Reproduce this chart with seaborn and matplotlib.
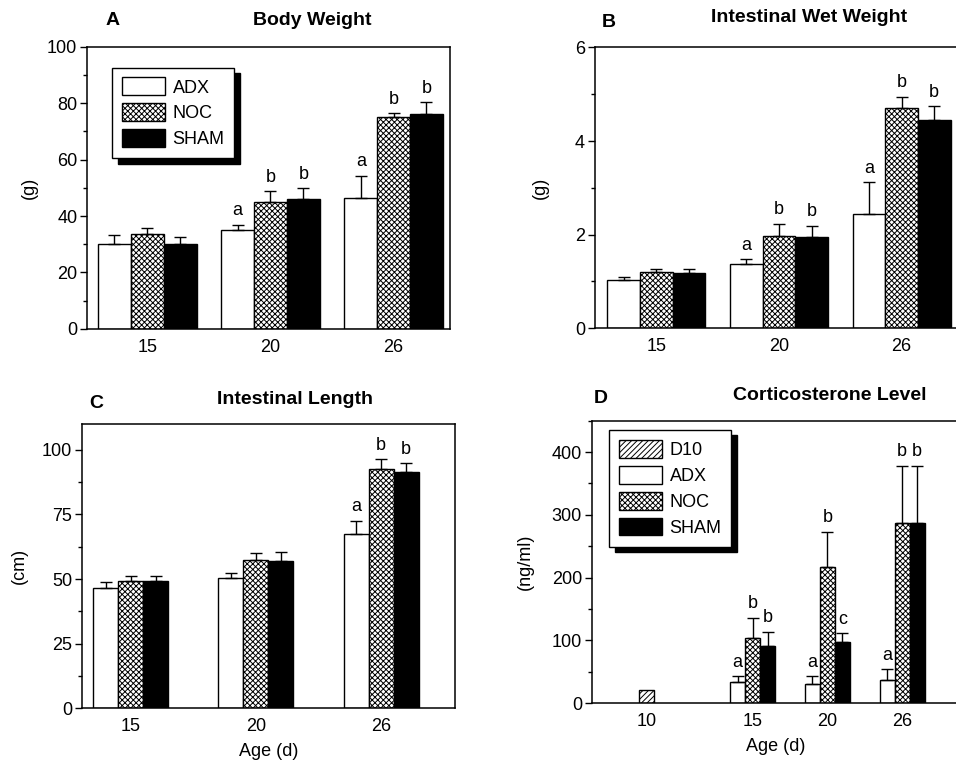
import matplotlib.pyplot as plt
import pandas as pd
import seaborn as sns
from matplotlib.patches import Patch
from matplotlib.ticker import AutoMinorLocator, MultipleLocator

# Data (mean and SEM)
ages = ['15', '20', '26']
groups = ['ADX', 'NOC', 'SHAM']

bw_adx = [30.2, 35.0, 46.5]
bw_noc = [33.6, 45.0, 75.1]
bw_sham = [30.2, 46.1, 76.2]
bw_adx_sem = [3.1, 2.0, 7.7]
bw_noc_sem = [2.0, 3.8, 1.3]
bw_sham_sem = [2.2, 3.7, 4.1]

iw_adx = [1.02, 1.38, 2.44]
iw_noc = [1.21, 1.96, 4.70]
iw_sham = [1.17, 1.95, 4.44]
iw_adx_sem = [0.08, 0.09, 0.68]
iw_noc_sem = [0.06, 0.27, 0.25]
iw_sham_sem = [0.09, 0.24, 0.30]

il_adx = [46.6, 50.5, 67.3]
il_noc = [49.4, 57.2, 92.7]
il_sham = [49.4, 56.9, 91.6]
il_adx_sem = [2.3, 1.9, 5.3]
il_noc_sem = [1.8, 3.0, 3.7]
il_sham_sem = [1.7, 3.7, 3.3]

cort_d10 = [21.2]
cort_adx = [34.0, 30.2, 37.1]
cort_noc = [103.4, 216.4, 286.5]
cort_sham = [90.2, 97.1, 286.5]
cort_adx_sem = [9.0, 12.2, 17.0]
cort_noc_sem = [32.9, 56.8, 91.7]
cort_sham_sem = [23.8, 13.9, 91.7]

letters_ab = {'ADX': ['', 'a', 'a'], 'NOC': ['', 'b', 'b'], 'SHAM': ['', 'b', 'b']}
letters_c = {'ADX': ['', '', 'a'], 'NOC': ['', '', 'b'], 'SHAM': ['', '', 'b']}
letters_d = {'ADX': ['a', 'a', 'a'], 'NOC': ['b', 'b', 'b'], 'SHAM': ['b', 'c', 'b']}

sns.set_style('ticks')
plt.rcParams['font.family'] = ['Liberation Sans', 'DejaVu Sans']
plt.rcParams['hatch.linewidth'] = 0.7
for key in ['text.color', 'axes.labelcolor', 'xtick.color', 'ytick.color',
            'axes.edgecolor']:
    plt.rcParams[key] = 'black'

palette = {'ADX': 'white', 'NOC': 'white', 'SHAM': 'black', 'D10': 'white'}
hatches = {'ADX': '', 'NOC': 'xxxxxx', 'SHAM': '', 'D10': '//////'}


def long_df(x, means, sems):
    rows = []
    for g, m, s in zip(groups, means, sems):
        for a, v, e in zip(x, m, s):
            rows.append({'age': a, 'group': g, 'value': v, 'sem': e})
    return pd.DataFrame(rows)


def add_errors(ax, df, containers, letters):
    for cont, g in zip(containers, groups):
        sub = df[df['group'] == g]
        for bar, sem, lab in zip(cont, sub['sem'], letters[g]):
            bar.set_hatch(hatches[g])
            x = bar.get_x() + bar.get_width() / 2
            top = bar.get_height()
            ax.errorbar(x, top, yerr=[[0], [sem]], color='black', lw=1,
                        capsize=4, capthick=1, zorder=3)
            if lab:
                ax.annotate(lab, (x, top + sem), xytext=(0, 4),
                            textcoords='offset points', ha='center',
                            va='bottom', fontsize=13)


def style_axis(ax, ylim, major, ylabel, label_x, xlim):
    ax.set_ylim(*ylim)
    ax.set_xlim(*xlim)
    ax.yaxis.set_major_locator(MultipleLocator(major))
    ax.yaxis.set_minor_locator(AutoMinorLocator(2))
    ax.tick_params(axis='y', which='major', length=5, width=1, pad=2, labelsize=13)
    ax.tick_params(axis='y', which='minor', length=3, width=1)
    ax.tick_params(axis='x', length=0, pad=7, labelsize=13)
    for sp in ax.spines.values():
        sp.set_visible(True)
        sp.set_linewidth(1.1)
        sp.set_color('black')
    ax.set_ylabel(ylabel, fontsize=13)
    ax.yaxis.set_label_coords(label_x, 0.5)
    ax.set_xlabel('')


def titles(ax, letter, title, lx, ly, tx, ty):
    ax.text(lx, ly, letter, transform=ax.transAxes, fontsize=14,
            fontweight='bold', ha='left', va='center')
    ax.text(tx, ty, title, transform=ax.transAxes, fontsize=14,
            fontweight='bold', ha='center', va='center')


def legend(ax, names, anchor):
    handles = [Patch(facecolor=palette[n], edgecolor='black', hatch=hatches[n],
                     label=n, linewidth=1) for n in names]
    leg = ax.legend(handles=handles, loc='upper left', bbox_to_anchor=anchor,
                    borderaxespad=0, fontsize=13, frameon=True, fancybox=False,
                    framealpha=1, edgecolor='black', handlelength=2.4,
                    handleheight=1.15, labelspacing=0.38, handletextpad=0.4,
                    borderpad=0.55,
                    shadow={'ox': 4, 'oy': -4, 'color': 'black', 'alpha': 1})
    leg.get_frame().set_linewidth(1)


def bar_panel(ax, means, sems, letters, width):
    df = long_df(ages, means, sems)
    sns.barplot(data=df, x='age', y='value', hue='group', order=ages,
                hue_order=groups, palette=palette, edgecolor='black',
                linewidth=1, width=width, errorbar=None, saturation=1,
                legend=False, ax=ax)
    add_errors(ax, df, ax.containers, letters)


fig = plt.figure(figsize=(9.56, 7.65), dpi=100)
axA = fig.add_axes([0.091, 0.570, 0.380, 0.369])
axB = fig.add_axes([0.622, 0.571, 0.380, 0.367])
axC = fig.add_axes([0.0858, 0.0745, 0.390, 0.371])
axD = fig.add_axes([0.619, 0.081, 0.385, 0.369])

# A: body weight
bar_panel(axA, [bw_adx, bw_noc, bw_sham], [bw_adx_sem, bw_noc_sem, bw_sham_sem],
          letters_ab, 0.8)
style_axis(axA, (0, 100), 20, '(g)', -0.135, (-0.49, 2.46))
titles(axA, 'A', 'Body Weight', 0.05, 1.092, 0.62, 1.092)
legend(axA, groups, (0.069, 0.926))

# B: intestinal wet weight
bar_panel(axB, [iw_adx, iw_noc, iw_sham], [iw_adx_sem, iw_noc_sem, iw_sham_sem],
          letters_ab, 0.8)
style_axis(axB, (0, 6), 2, '(g)', -0.125, (-0.504, 2.46))
titles(axB, 'B', 'Intestinal Wet Weight', 0.02, 1.089, 0.59, 1.107)

# C: intestinal length
bar_panel(axC, [il_adx, il_noc, il_sham], [il_adx_sem, il_noc_sem, il_sham_sem],
          letters_c, 0.6)
style_axis(axC, (0, 110), 25, '(cm)', -0.145, (-0.39, 2.59))
titles(axC, 'C', 'Intestinal Length', 0.02, 1.074, 0.571, 1.088)
axC.set_xlabel('Age (d)', fontsize=13, labelpad=6)

# D: corticosterone, D10 bar set apart from the group bars
d_pos = {'10': 0.0, '15': 1.42, '20': 2.42, '26': 3.42}
df10 = pd.DataFrame({'pos': [d_pos['10']], 'value': cort_d10})
sns.barplot(data=df10, x='pos', y='value', native_scale=True, width=0.2,
            color='white', edgecolor='black', linewidth=1, errorbar=None,
            saturation=1, ax=axD)
axD.containers[0][0].set_hatch(hatches['D10'])
dfD = long_df([d_pos[a] for a in ages], [cort_adx, cort_noc, cort_sham],
              [cort_adx_sem, cort_noc_sem, cort_sham_sem])
sns.barplot(data=dfD, x='age', y='value', hue='group', hue_order=groups,
            native_scale=True, palette=palette, edgecolor='black', linewidth=1,
            width=0.6, errorbar=None, saturation=1, legend=False, ax=axD)
add_errors(axD, dfD, axD.containers[1:], letters_d)
style_axis(axD, (0, 450), 100, '(ng/ml)', -0.157, (-0.73, 4.19))
axD.set_xticks(list(d_pos.values()), list(d_pos.keys()))
titles(axD, 'D', 'Corticosterone Level', 0.005, 1.08, 0.646, 1.089)
axD.set_xlabel('Age (d)', fontsize=13, labelpad=6)
legend(axD, ['D10'] + groups, (0.047, 0.968))

fig.savefig('out.png', dpi=100)
